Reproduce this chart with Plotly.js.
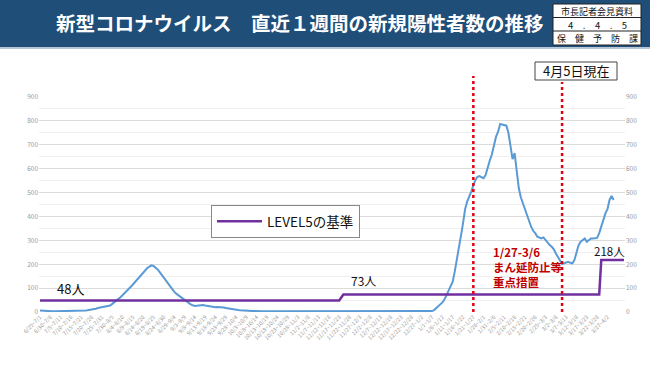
<!DOCTYPE html>
<html><head><meta charset="utf-8">
<script src="https://cdn.plot.ly/plotly-3.0.1.min.js"></script>
<style>html,body{margin:0;padding:0;background:#fff;}#chart{width:650px;height:365px;}</style>
</head><body><div id="chart"></div>
<script>
// ---- data ----
const startDate = "2021-06-25";   // first 7-day window start
const nWindows = 284;              // number of 7-day windows on the axis

// new positives in the latest 7 days (one value per window, 6/25~7/1 ... 3/30~4/5)
const weeklyCases = [
  6,5,5,4,4,4,3,3,3,3,
  3,3,3,3,3,3,3,3,4,4,
  5,5,6,7,8,10,12,14,17,19,
  20,21,23,25,27,34,40,47,55,62,
  70,78,86,95,106,115,125,136,148,158,
  168,176,184,190,195,193,186,178,167,155,
  141,130,118,104,93,85,77,70,64,58,
  50,43,38,32,28,25,26,28,29,29,
  27,25,23,21,20,20,21,21,20,19,
  17,15,13,11,9,8,8,7,6,5,
  5,5,4,4,4,3,3,3,3,3,
  3,3,3,3,3,3,3,3,3,3,
  3,3,3,3,3,3,3,3,3,3,
  3,3,3,3,3,3,3,3,3,3,
  3,3,3,3,3,3,3,3,3,3,
  3,3,3,3,3,3,3,3,3,3,
  3,3,3,3,3,3,3,3,3,3,
  3,3,3,3,3,3,3,3,3,3,
  3,3,3,3,3,3,3,3,3,3,
  4,8,15,25,33,40,52,70,92,110,
  127,170,215,260,320,371,430,462,480,504,
  530,553,566,569,564,560,575,608,635,660,
  700,734,755,787,785,783,780,750,700,640,
  665,590,520,480,455,430,405,380,357,340,
  330,315,310,308,312,300,290,280,273,262,
  245,231,212,201,204,208,210,206,204,218,
  250,280,294,302,308,294,300,308,308,309,
  310,330,357,390,413,430,469,486,469
];

// LEVEL5 threshold (step line)
const levelDates  = ["6/25~7/1","11/17~11/23","11/19~11/25","3/23~3/29","3/24~3/30","4/4~4/10"];
const levelValues = [48,48,73,73,218,218];

// priority measures period markers
const markerDates = ["1/21~1/27","3/5~3/11"];

const yTicks = [0,100,200,300,400,500,600,700,800,900];

// ---- categories ----
function md(d){ return (d.getUTCMonth()+1)+"/"+d.getUTCDate(); }
const categories = [];
const s0 = new Date(startDate+"T00:00:00Z");
for (let i=0;i<nWindows;i++){
  const a = new Date(s0.getTime()+i*86400000);
  const b = new Date(s0.getTime()+(i+6)*86400000);
  categories.push(md(a)+"~"+md(b));
}
const tickCats = categories.filter((c,i)=>i%5===0 && i<=275);

// ---- geometry helpers (pixel -> paper) ----
const W=650,H=365, ML=39, MR=25, MT=97, MB=53;
const PW=W-ML-MR, PH=H-MT-MB;
const X = px => (px-ML)/PW;
const Y = py => (H-MB-py)/PH;

const jp = '"Noto Sans CJK JP", "Noto Sans", sans-serif';

const traces = [
  {x: categories.slice(0, weeklyCases.length), y: weeklyCases, type:'scatter', mode:'lines',
   name:'新規陽性者数', showlegend:false,
   line:{color:'#5b9bd5', width:2}},
  {x: levelDates, y: levelValues, type:'scatter', mode:'lines', yaxis:'y2',
   name:'LEVEL5の基準', line:{color:'#7030a0', width:2.5}}
];

const shapes = [
  // banner
  {type:'rect', xref:'paper', yref:'paper', x0:X(0), x1:X(650), y0:Y(47), y1:Y(0),
   fillcolor:'#1f4e79', line:{width:0}, layer:'above'},
  {type:'line', xref:'paper', yref:'paper', x0:X(0), x1:X(650), y0:Y(48), y1:Y(48),
   line:{color:'#9db3cc', width:1.5}},
  // right info box
  {type:'rect', xref:'paper', yref:'paper', x0:X(553), x1:X(641), y0:Y(45), y1:Y(4),
   fillcolor:'#ffffff', line:{color:'#222', width:1}, layer:'above'},
  {type:'line', xref:'paper', yref:'paper', x0:X(553), x1:X(641), y0:Y(17.5), y1:Y(17.5),
   line:{color:'#222', width:1}, layer:'above'},
  {type:'line', xref:'paper', yref:'paper', x0:X(553), x1:X(641), y0:Y(31), y1:Y(31),
   line:{color:'#222', width:1}, layer:'above'},
  // date box
  {type:'rect', xref:'paper', yref:'paper', x0:X(535), x1:X(617), y0:Y(80), y1:Y(62),
   fillcolor:'#ffffff', line:{color:'#444', width:1}},
  // dotted markers
  {type:'line', xref:'x', yref:'paper', x0:markerDates[0], x1:markerDates[0], y0:0, y1:Y(76),
   line:{color:'#e3000f', width:2.5, dash:'dot'}},
  {type:'line', xref:'x', yref:'paper', x0:markerDates[1], x1:markerDates[1], y0:0, y1:Y(82),
   line:{color:'#e3000f', width:2.5, dash:'dot'}}
];

const ann = (text, px, py, opts={}) => Object.assign({
  text, xref:'paper', yref:'paper', x:X(px), y:Y(py), showarrow:false,
  xanchor:'center', yanchor:'middle', font:{family:jp, size:12, color:'#111'}}, opts);

const annotations = [
  ann('新型コロナウイルス　直近１週間の新規陽性者数の推移', 300, 23, {font:{family:jp, size:19.5, color:'#ffffff', weight:'bold'}}),
  ann('市長記者会見資料', 597, 11, {font:{family:jp, size:9, color:'#111'}}),
  ann('4　.　4　.　5', 597, 24.5, {font:{family:jp, size:9.5, color:'#111'}}),
  ann('保　健　予　防　課', 597, 38, {font:{family:jp, size:9, color:'#111'}}),
  ann('4月5日現在', 576, 71, {font:{family:jp, size:13, color:'#111'}}),
  ann('48人', 70, 288, {font:{family:jp, size:13, color:'#111'}}),
  ann('73人', 363, 280, {font:{family:jp, size:12, color:'#111'}}),
  ann('218人', 609, 251, {font:{family:jp, size:11.5, color:'#111'}}),
  ann('1/27-3/6<br>まん延防止等<br>重点措置', 491, 267, {xanchor:'left', align:'left',
     font:{family:jp, size:11.5, color:'#c00000', weight:'bold'}})
];

const layout = {
  width:W, height:H, margin:{l:ML, r:MR, t:MT, b:MB, pad:0},
  paper_bgcolor:'#ffffff', plot_bgcolor:'#ffffff',
  font:{family:jp, color:'#999'},
  showlegend:true,
  legend:{x:X(211), y:Y(205), xanchor:'left', yanchor:'top', bgcolor:'#ffffff',
          bordercolor:'#888', borderwidth:1, itemwidth:45,
          font:{family:jp, size:13.5, color:'#111'}},
  xaxis:{type:'category', categoryorder:'array', categoryarray:categories,
         range:[-0.5, nWindows-0.5], tickmode:'array', tickvals:tickCats, ticktext:tickCats,
         tickangle:-45, tickfont:{size:5.5, color:'#999999'}, showgrid:false, zeroline:false,
         showline:false, ticks:''},
  yaxis:{range:[0,900], tickvals:yTicks, tickfont:{size:6.5, color:'#999999'},
         gridcolor:'#dcdcdc', gridwidth:1, zeroline:false, showline:false, ticks:'',
         minor:{dtick:50, showgrid:true, gridcolor:'#efefef', gridwidth:1}},
  yaxis2:{range:[0,900], tickvals:yTicks, overlaying:'y', side:'right',
          tickfont:{size:6.5, color:'#999999'}, showgrid:false, zeroline:false, showline:false, ticks:''},
  shapes, annotations
};

Plotly.newPlot('chart', traces, layout, {staticPlot:true, displayModeBar:false});
</script></body></html>
